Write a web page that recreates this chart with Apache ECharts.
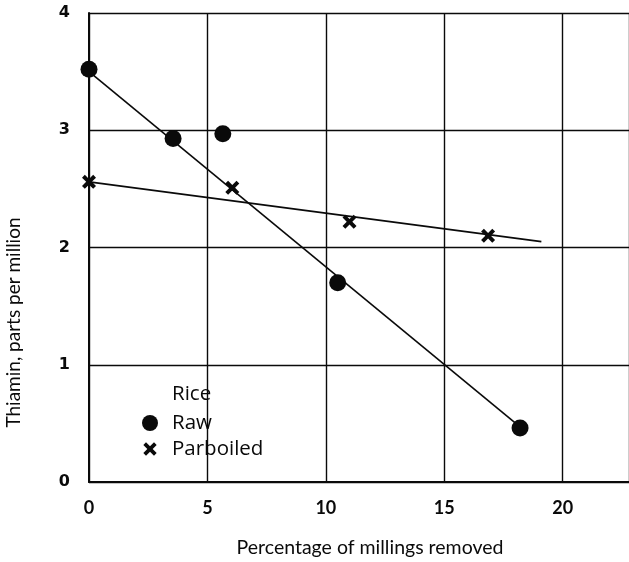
<!DOCTYPE html>
<html>
<head>
<meta charset="utf-8">
<script src="https://cdn.jsdelivr.net/npm/echarts@6/dist/echarts.min.js"></script>
<style>
  html, body { margin: 0; padding: 0; background: #fff; }
  #chart { width: 629px; height: 562px; }
</style>
</head>
<body>
<div id="chart"></div>
<script>
// measured points, % millings removed vs thiamin (ppm)
var rawPoints = [[0, 3.52], [3.55, 2.93], [5.65, 2.97], [10.5, 1.7], [18.2, 0.46]];
var parboiledPoints = [[0, 2.56], [6.05, 2.51], [11.0, 2.22], [16.85, 2.1]];
// hand-drawn fit lines (endpoints)
var rawFit = [[0, 3.5], [18.2, 0.47]];
var parboiledFit = [[0, 2.56], [19.1, 2.05]];

var xTicks = [0, 5, 10, 15, 20];
var yTicks = [0, 1, 2, 3, 4];

var crossPath = "path://M2,0 L5,3 L8,0 L10,2 L7,5 L10,8 L8,10 L5,7 L2,10 L0,8 L3,5 L0,2 Z";
// same cross with tiny specks so the legend box leaves some space round it
var crossIcon = "path://M-1,-1 L-0.95,-1 L-0.95,-0.95 Z M11,11 L10.95,11 L10.95,10.95 Z " +
    "M2,0 L5,3 L8,0 L10,2 L7,5 L10,8 L8,10 L5,7 L2,10 L0,8 L3,5 L0,2 Z";
var ink = "#0a0a0a";
var font = "Lato";
var legendFont = "Open Sans";

var chart = echarts.init(document.getElementById("chart"));
chart.setOption({
    animation: false,
    backgroundColor: "#fff",
    grid: { left: 89, top: 13, right: 0, bottom: 80, containLabel: false, outerBoundsMode: "none" },
    xAxis: {
        type: "value",
        min: 0,
        max: 22.8,
        interval: 5,
        name: "Percentage of millings removed",
        nameLocation: "middle",
        nameGap: 56,
        nameTextStyle: { color: ink, fontFamily: font, fontSize: 19.5, padding: [0, 0, 0, 22] },
        axisLine: { show: true, lineStyle: { color: ink, width: 2 } },
        axisTick: { show: false },
        axisLabel: {
            color: ink, fontFamily: font, fontSize: 18, fontWeight: "bold", margin: 17,
            formatter: function (v) { return xTicks.indexOf(v) >= 0 ? String(v) : ""; }
        },
        splitLine: { show: true, lineStyle: { color: ink, width: 1.4 } }
    },
    yAxis: {
        type: "value",
        min: 0,
        max: 4,
        interval: 1,
        name: "Thiamin, parts per million",
        nameLocation: "middle",
        nameGap: 66,
        nameTextStyle: { color: ink, fontFamily: font, fontSize: 19, padding: [0, 150, 0, 0] },
        axisLine: { show: true, lineStyle: { color: ink, width: 2 } },
        axisTick: { show: false },
        axisLabel: {
            color: ink, fontFamily: "DejaVu Sans", fontSize: 16, fontWeight: "bold", margin: 19,
            formatter: function (v) { return yTicks.indexOf(v) >= 0 ? String(v) : ""; }
        },
        splitLine: { show: true, lineStyle: { color: ink, width: 1.4 } }
    },
    legend: {
        orient: "vertical",
        left: 142,
        top: 412,
        padding: 0,
        itemGap: 4,
        itemWidth: 16,
        itemHeight: 16,
        textStyle: { color: ink, fontFamily: legendFont, fontSize: 20.5, lineHeight: 22, padding: [0, 0, 0, 9] },
        data: [
            { name: "Raw", icon: "circle" },
            { name: "Parboiled", icon: crossIcon }
        ]
    },
    graphic: [{
        type: "text",
        left: 172,
        top: 384,
        style: { text: "Rice", fill: ink, font: "20.5px '" + legendFont + "'" }
    }],
    series: [
        {
            name: "Raw fit",
            type: "line",
            data: rawFit,
            symbol: "none",
            lineStyle: { color: ink, width: 1.6 },
            silent: true,
            z: 2
        },
        {
            name: "Parboiled fit",
            type: "line",
            data: parboiledFit,
            symbol: "none",
            lineStyle: { color: ink, width: 1.6 },
            silent: true,
            z: 2
        },
        {
            name: "Raw",
            type: "scatter",
            data: rawPoints,
            symbol: "circle",
            symbolSize: 17,
            itemStyle: { color: ink, opacity: 1 },
            z: 3
        },
        {
            name: "Parboiled",
            type: "scatter",
            data: parboiledPoints,
            symbol: crossPath,
            symbolSize: 14,
            itemStyle: { color: ink, opacity: 1 },
            z: 3
        }
    ]
});
</script>
</body>
</html>
